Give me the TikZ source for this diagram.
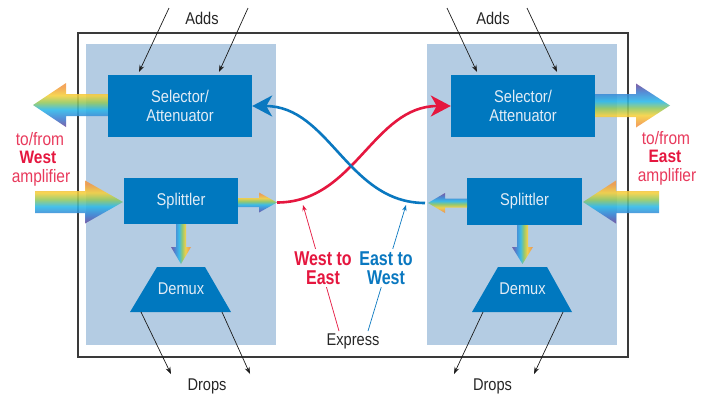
\documentclass[tikz,border=0pt]{standalone}
\usepackage{fontspec}
\setmainfont{Liberation Sans}[FakeStretch=0.86]
\newfontfamily\condfont{Liberation Sans}[FakeStretch=0.8]
\usetikzlibrary{arrows.meta}

% palette
\definecolor{boxblue}{HTML}{0078BF}
\definecolor{panelblue}{HTML}{B4CCE3}
\definecolor{boxtext}{HTML}{E2ECF6}
\definecolor{xred}{HTML}{E5173F}
\definecolor{xpink}{HTML}{E83A5C}
\definecolor{xblue}{HTML}{0A78C0}
\definecolor{framegray}{HTML}{3A3A3A}
\definecolor{inkgray}{HTML}{1C1C1C}
\definecolor{rbPurple}{HTML}{6A4FA0}
\definecolor{rbBlue}{HTML}{3C80D2}
\definecolor{rbCyan}{HTML}{2BB8E8}
\definecolor{rbGreen}{HTML}{93C85E}
\definecolor{rbYellow}{HTML}{F6D03C}
\definecolor{rbOrange}{HTML}{F29A45}

% spectrum used for the optical signal arrows (warm side on top)
\pgfdeclareverticalshading{rainbow}{100bp}{%
  color(0bp)=(rbPurple); color(26bp)=(rbPurple); color(35bp)=(rbBlue);
  color(45bp)=(rbCyan); color(53bp)=(rbGreen); color(61bp)=(rbYellow);
  color(71bp)=(rbOrange); color(100bp)=(rbOrange)}

\tikzset{
  rbstyle/.style={shading=rainbow, fill opacity=0.88},
  panel/.style={fill=panelblue, draw=none, inner sep=0},
  unit/.style={fill=boxblue, text=boxtext, inner sep=0, align=center,
    font=\fontsize{17}{19.5}\selectfont},
  plain/.style={font=\fontsize{17}{20}\selectfont, text=black!85, inner sep=0},
  amp/.style={font=\fontsize{18}{20}\selectfont, text=xpink, inner sep=0},
  ampbold/.style={font=\fontsize{18}{20}\selectfont\bfseries, text=xred, inner sep=0},
  dirlabel/.style={font=\condfont\fontsize{20}{19}\selectfont\bfseries,
    fill=white, align=center, inner xsep=1pt, inner ysep=3pt},
  express/.style={line width=2.6pt, -{Stealth[length=20pt,width=21pt,inset=6pt]}},
  thin/.style={draw=inkgray, line width=0.7pt, -{Stealth[length=7pt,width=5pt]}},
  pointer/.style={line width=0.7pt, -{Stealth[length=6pt,width=4.5pt]}},
}

% horizontal signal arrow: tail x, centre y, head base x, tip x, shaft half, head half, shading angle
\newcommand\hsig[7]{\shade[rbstyle, shading angle=#7]
  (#1,#2-#5) -- (#3,#2-#5) -- (#3,#2-#6) -- (#4,#2) -- (#3,#2+#6)
  -- (#3,#2+#5) -- (#1,#2+#5) -- cycle;}
% vertical signal arrow: tail y, centre x, head base y, tip y, shaft half, head half, shading angle
\newcommand\vsig[7]{\shade[rbstyle, shading angle=#7]
  (#2-#5,#1) -- (#2-#5,#3) -- (#2-#6,#3) -- (#2,#4) -- (#2+#6,#3)
  -- (#2+#5,#3) -- (#2+#5,#1) -- cycle;}

\begin{document}
\begin{tikzpicture}[x=1pt,y=-1pt]
\useasboundingbox (0,0) rectangle (707,394);

% node panels and outer frame
\node[panel, minimum width=190, minimum height=301] (panelL) at (181,194.5) {};
\node[panel, minimum width=190, minimum height=301] (panelR) at (522,194.5) {};
\draw[framegray, line width=1.2pt] (78,33) rectangle (628,357);

% amplifier-side signal arrows
\hsig{108}{105}{66}{33}{11}{22}{0}
\hsig{35}{202}{85}{123}{11}{21.5}{0}
\hsig{595}{105.5}{636}{670}{11.5}{22}{180}
\hsig{659}{202}{616}{583}{11}{21.5}{0}

% units
\node[unit, minimum width=144, minimum height=62] (selL) at (180,106) {Selector/\\Attenuator};
\node[unit, minimum width=144, minimum height=62] (selR) at (523,106) {Selector/\\Attenuator};
\node[unit, minimum width=114, minimum height=46] (splL) at (181,201) {Splittler};
\node[unit, minimum width=115, minimum height=47] (splR) at (524.5,201.5) {Splittler};

\fill[boxblue] (130,312) -- (157,267) -- (205,267) -- (231,312) -- cycle;
\fill[boxblue] (472,312) -- (498,267) -- (547,267) -- (572,312) -- cycle;
\node[unit, fill=none, anchor=base] (demL) at (181,294) {Demux};
\node[unit, fill=none, anchor=base] (demR) at (522.5,294) {Demux};

% splitter outputs
\hsig{238}{202.5}{259}{277}{4.5}{10}{0}
\hsig{467}{203}{445}{428}{4.5}{10}{180}
\vsig{224}{181}{247}{264}{5}{10}{-90}
\vsig{225}{522.5}{247}{264}{5.5}{10.5}{-90}

% express paths
\coordinate (lOut) at (277,202.5);
\coordinate (rIn) at (425,203);
\draw[express, xred] (lOut) to[out=0,in=180] (selR.west);
\draw[express, xblue] (rIn) to[out=180,in=0] (selL.east);

% adds
\node[plain, anchor=base] (addsL) at (202,24) {Adds};
\node[plain, anchor=base] (addsR) at (493,24) {Adds};
\coordinate (aL1) at (169,8);  \coordinate (aL1e) at (139,72);
\coordinate (aL2) at (248,8);  \coordinate (aL2e) at (219,72);
\coordinate (aR1) at (447,8);  \coordinate (aR1e) at (477,72);
\coordinate (aR2) at (527,8);  \coordinate (aR2e) at (557,72);
\draw[thin] (aL1) -- (aL1e);
\draw[thin] (aL2) -- (aL2e);
\draw[thin] (aR1) -- (aR1e);
\draw[thin] (aR2) -- (aR2e);

% drops
\node[plain, anchor=base] (dropsL) at (207,390) {Drops};
\node[plain, anchor=base] (dropsR) at (492.5,390) {Drops};
\coordinate (dL1) at (141,312);  \coordinate (dL1e) at (171,374);
\coordinate (dL2) at (222,312);  \coordinate (dL2e) at (250,374);
\coordinate (dR1) at (483,312);  \coordinate (dR1e) at (454,374);
\coordinate (dR2) at (563,312);  \coordinate (dR2e) at (534,374);
\draw[thin] (dL1) -- (dL1e);
\draw[thin] (dL2) -- (dL2e);
\draw[thin] (dR1) -- (dR1e);
\draw[thin] (dR2) -- (dR2e);

% express labels
\node[plain, anchor=base] (express) at (353,345) {Express};
\coordinate (xr0) at (339,331);  \coordinate (xr1) at (303,205);
\coordinate (xb0) at (368,331);  \coordinate (xb1) at (406,205);
\draw[pointer, xred] (xr0) -- (xr1);
\draw[pointer, xblue] (xb0) -- (xb1);
\node[dirlabel, text=xred] (w2e) at (323,268) {West to\\East};
\node[dirlabel, text=xblue] (e2w) at (386,268) {East to\\West};

% amplifier labels
\node[amp, anchor=base] (tfW) at (40,145) {to/from};
\node[ampbold, anchor=base] (west) at (38,163) {West};
\node[amp, anchor=base] (ampW) at (41,182) {amplifier};
\node[amp, anchor=base] (tfE) at (666,144) {to/from};
\node[ampbold, anchor=base] (east) at (665,162) {East};
\node[amp, anchor=base] (ampE) at (667,181) {amplifier};
\end{tikzpicture}
\end{document}
